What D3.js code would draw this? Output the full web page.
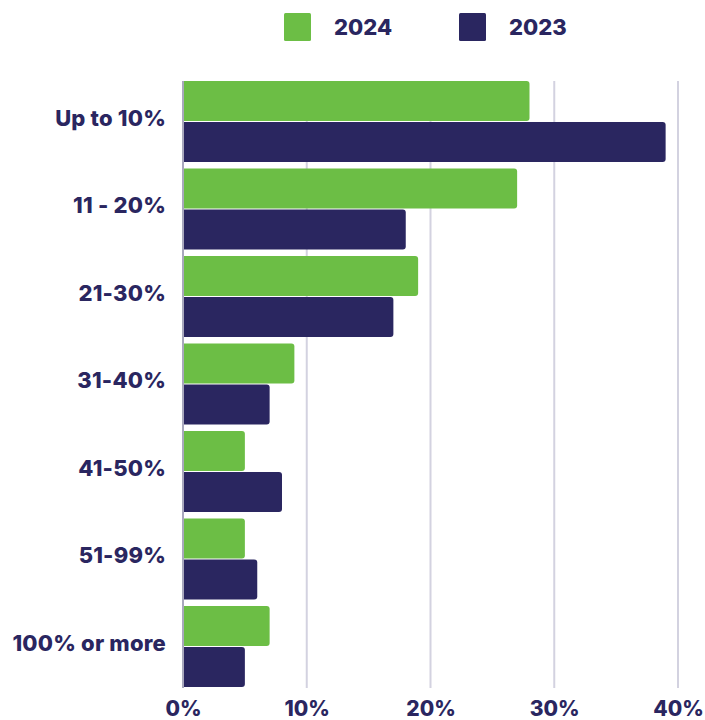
<!DOCTYPE html>
<html>
<head>
<meta charset="utf-8">
<script src="https://cdn.jsdelivr.net/npm/d3@7"></script>
<style>
  html, body { margin: 0; padding: 0; background: #ffffff; }
  svg text { font-family: Inter, "Open Sans", sans-serif; font-weight: 800; fill: #2a2660; }
</style>
</head>
<body>
<svg id="chart" width="705" height="720"></svg>
<script>
// Share of respondents by range
const categories = ["Up to 10%", "11 - 20%", "21-30%", "31-40%", "41-50%", "51-99%", "100% or more"];
const seriesNames = ["2024", "2023"];
const values2024 = [28, 27, 19, 9, 5, 5, 7];
const values2023 = [39, 18, 17, 7, 8, 6, 5];
const tickValues = [0, 10, 20, 30, 40];
const colors = { "2024": "#6cbe45", "2023": "#2a2660" };

const rows = categories.map((c, i) => ({ category: c, "2024": values2024[i], "2023": values2023[i] }));

const svg = d3.select("#chart");
const plotTop = 81, plotBottom = 688;

const x = d3.scaleLinear().domain([0, 40]).range([183, 678]);
const y0 = d3.scaleBand().domain(categories).range([77.7, 690.3]).paddingInner(0.076).paddingOuter(0.038);
const y1 = d3.scaleBand().domain(seriesNames).range([0, y0.bandwidth()]).paddingInner(0.025);

// vertical gridlines
svg.append("g").selectAll("line").data(tickValues.filter(d => d > 0)).join("line")
  .attr("x1", d => x(d)).attr("x2", d => x(d))
  .attr("y1", plotTop).attr("y2", plotBottom)
  .attr("stroke", "#d3d2e0").attr("stroke-width", 2);

// bars with rounded right ends
const r = 3;
function barPath(x0, x1, yTop, h) {
  const w = x1 - x0;
  const rr = Math.min(r, w / 2, h / 2);
  return `M${x0},${yTop}H${x1 - rr}Q${x1},${yTop} ${x1},${yTop + rr}V${yTop + h - rr}Q${x1},${yTop + h} ${x1 - rr},${yTop + h}H${x0}Z`;
}

const groups = svg.append("g").selectAll("g").data(rows).join("g")
  .attr("transform", d => `translate(0,${y0(d.category)})`);

groups.selectAll("path").data(d => seriesNames.map(s => ({ key: s, value: d[s] }))).join("path")
  .attr("d", d => barPath(x(0), x(d.value), y1(d.key), y1.bandwidth()))
  .attr("fill", d => colors[d.key]);

// left axis line
svg.append("line")
  .attr("x1", x(0)).attr("x2", x(0))
  .attr("y1", plotTop).attr("y2", plotBottom)
  .attr("stroke", "#a9a8bd").attr("stroke-width", 2);

// category labels, centred between the two bars of each group
const yAxis = d3.axisLeft(y0).tickSize(0).tickPadding(17);
const gy = svg.append("g").attr("transform", `translate(${x(0)},0)`).call(yAxis);
gy.select(".domain").remove();
gy.selectAll(".tick").attr("transform", d => `translate(0,${y0(d) + y1.bandwidth() - 3})`);
gy.selectAll("text")
  .attr("dy", "0.35em")
  .style("font-size", "22px")
  .style("letter-spacing", "0.2px");

// x axis tick labels
const xAxis = d3.axisBottom(x).tickValues(tickValues).tickFormat(d => d + "%").tickSize(0).tickPadding(0);
const gx = svg.append("g").attr("transform", `translate(0,709)`).call(xAxis);
gx.select(".domain").remove();
gx.selectAll("text")
  .attr("dy", "0.35em")
  .style("font-size", "21px");

// legend
const legend = svg.append("g");
const legendX = { "2024": 284, "2023": 459 };
seriesNames.forEach(s => {
  legend.append("rect")
    .attr("x", legendX[s]).attr("y", 13)
    .attr("width", 27).attr("height", 28)
    .attr("rx", 1.5)
    .attr("fill", colors[s]);
  legend.append("text")
    .attr("x", legendX[s] + 50).attr("y", 35)
    .style("font-size", "22px")
    .text(s);
});
</script>
</body>
</html>
